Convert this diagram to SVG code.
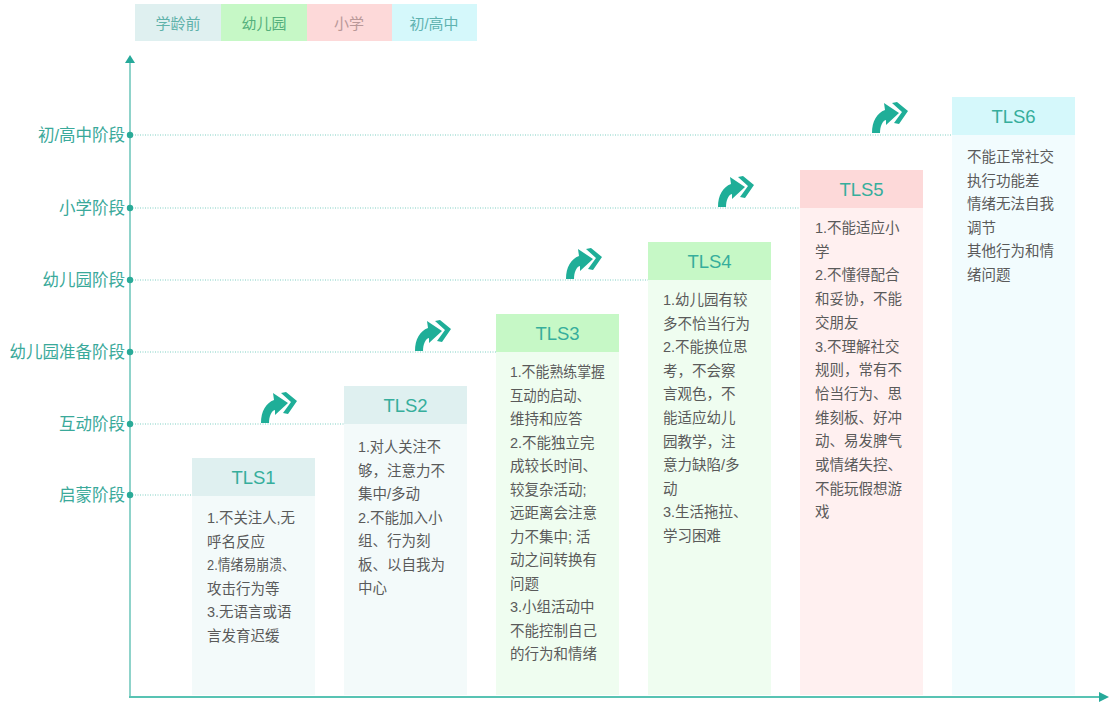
<svg xmlns="http://www.w3.org/2000/svg" width="1114" height="706" viewBox="0 0 1114 706">
<style>
.lg{font-family:"Liberation Sans","Noto Sans CJK SC",sans-serif;font-size:15px;text-anchor:middle}
.lv{font-family:"Liberation Sans","Noto Sans CJK SC",sans-serif;font-size:16.5px;fill:#3aa99a;text-anchor:end}
.hd{font-family:"Liberation Sans","Noto Sans CJK SC",sans-serif;font-size:18.5px;fill:#36ae9c;text-anchor:middle}
.bd{font-family:"Liberation Sans","Noto Sans CJK SC",sans-serif;font-size:14.5px;fill:#5a5a5a}
.dot{stroke:#7fcfc3;stroke-width:1;stroke-dasharray:1 1.5;fill:none}
.pt{fill:#2aaa98}
.ic{fill:#1fae98}
</style>
<defs>
<g id="ic">
<path class="ic" d="M0,31 C0,19 5,11 13,8 L12,1 L27,11 L14,23 L14,18 C10,19 8,25 8,31 Z"/>
<path class="ic" d="M20,1 L25,0 L36,9 L27,22 L22,21 L30,10 Z"/>
</g>
</defs>
<rect width="1114" height="706" fill="#ffffff"/>

<g id="legend">
<rect x="135" y="4" width="86" height="37" fill="#dff0f0"/>
<rect x="221" y="4" width="86" height="37" fill="#c6f8c6"/>
<rect x="307" y="4" width="85" height="37" fill="#fdd9d9"/>
<rect x="392" y="4" width="85" height="37" fill="#d5f8fb"/>
<text class="lg" x="178" y="29" fill="#5fb2aa">学龄前</text>
<text class="lg" x="264" y="29" fill="#55b07c">幼儿园</text>
<text class="lg" x="349" y="29" fill="#b99898">小学</text>
<text class="lg" x="434" y="29" fill="#5fb2b0">初/高中</text>
</g>

<g id="connectors">
<line x1="130" y1="697" x2="130" y2="62" stroke="#8fd3ca" stroke-width="2"/>
<polygon points="130,55 125,63 135,63" fill="#26a99a"/>
<line x1="129" y1="697" x2="1099" y2="697" stroke="#58c3b3" stroke-width="2"/>
<polygon points="1109,697 1099,692 1099,702" fill="#26a99a"/>
<line class="dot" x1="130" y1="495" x2="192" y2="495"/>
<line class="dot" x1="130" y1="424" x2="344" y2="424"/>
<line class="dot" x1="130" y1="352" x2="496" y2="352"/>
<line class="dot" x1="130" y1="280" x2="648" y2="280"/>
<line class="dot" x1="130" y1="208" x2="800" y2="208"/>
<line class="dot" x1="130" y1="135" x2="952" y2="135"/>
<circle class="pt" cx="130" cy="495" r="3.2"/>
<circle class="pt" cx="130" cy="424" r="3.2"/>
<circle class="pt" cx="130" cy="352" r="3.2"/>
<circle class="pt" cx="130" cy="280" r="3.2"/>
<circle class="pt" cx="130" cy="208" r="3.2"/>
<circle class="pt" cx="130" cy="135" r="3.2"/>
<use href="#ic" x="261" y="392"/>
<use href="#ic" x="415" y="320"/>
<use href="#ic" x="566" y="248"/>
<use href="#ic" x="718" y="176"/>
<use href="#ic" x="872" y="102"/>
</g>

<g id="levels">
<text class="lv" x="125" y="501">启蒙阶段</text>
<text class="lv" x="125" y="430">互动阶段</text>
<text class="lv" x="125" y="358">幼儿园准备阶段</text>
<text class="lv" x="125" y="286">幼儿园阶段</text>
<text class="lv" x="125" y="214">小学阶段</text>
<text class="lv" x="125" y="141">初/高中阶段</text>
</g>

<g id="tls1">
<rect x="192" y="496" width="123" height="199" fill="#f3fafa"/>
<rect x="192" y="458" width="123" height="38" fill="#dff0f0"/>
<text class="hd" x="253.5" y="484">TLS1</text>
<text class="bd" x="207" y="523"><tspan x="207" textLength="88" lengthAdjust="spacingAndGlyphs">1.不关注人,无</tspan><tspan x="207" dy="23.5">呼名反应</tspan><tspan x="207" dy="23.5" textLength="88" lengthAdjust="spacingAndGlyphs">2.情绪易崩溃、</tspan><tspan x="207" dy="23.5">攻击行为等</tspan><tspan x="207" dy="23.5">3.无语言或语</tspan><tspan x="207" dy="23.5">言发育迟缓</tspan></text>
</g>

<g id="tls2">
<rect x="344" y="424" width="123" height="271" fill="#f3fafa"/>
<rect x="344" y="386" width="123" height="38" fill="#dff0f0"/>
<text class="hd" x="405.5" y="412">TLS2</text>
<text class="bd" x="358" y="452"><tspan x="358" textLength="83" lengthAdjust="spacingAndGlyphs">1.对人关注不</tspan><tspan x="358" dy="23.5">够，注意力不</tspan><tspan x="358" dy="23.5">集中/多动</tspan><tspan x="358" dy="23.5">2.不能加入小</tspan><tspan x="358" dy="23.5">组、行为刻</tspan><tspan x="358" dy="23.5">板、以自我为</tspan><tspan x="358" dy="23.5">中心</tspan></text>
</g>

<g id="tls3">
<rect x="496" y="352" width="123" height="343" fill="#effdf0"/>
<rect x="496" y="314" width="123" height="38" fill="#c6f8c6"/>
<text class="hd" x="557.5" y="340">TLS3</text>
<text class="bd" x="510" y="377"><tspan x="510" textLength="95" lengthAdjust="spacingAndGlyphs">1.不能熟练掌握</tspan><tspan x="510" dy="23.5" textLength="80" lengthAdjust="spacingAndGlyphs">互动的启动、</tspan><tspan x="510" dy="23.5">维持和应答</tspan><tspan x="510" dy="23.5">2.不能独立完</tspan><tspan x="510" dy="23.5">成较长时间、</tspan><tspan x="510" dy="23.5">较复杂活动;</tspan><tspan x="510" dy="23.5">远距离会注意</tspan><tspan x="510" dy="23.5">力不集中; 活</tspan><tspan x="510" dy="23.5">动之间转换有</tspan><tspan x="510" dy="23.5">问题</tspan><tspan x="510" dy="23.5">3.小组活动中</tspan><tspan x="510" dy="23.5">不能控制自己</tspan><tspan x="510" dy="23.5">的行为和情绪</tspan></text>
</g>

<g id="tls4">
<rect x="648" y="280" width="123" height="415" fill="#effdf0"/>
<rect x="648" y="242" width="123" height="38" fill="#c6f8c6"/>
<text class="hd" x="709.5" y="268">TLS4</text>
<text class="bd" x="663" y="305"><tspan x="663">1.幼儿园有较</tspan><tspan x="663" dy="23.6">多不恰当行为</tspan><tspan x="663" dy="23.6">2.不能换位思</tspan><tspan x="663" dy="23.6">考，不会察</tspan><tspan x="663" dy="23.6">言观色，不</tspan><tspan x="663" dy="23.6">能适应幼儿</tspan><tspan x="663" dy="23.6">园教学，注</tspan><tspan x="663" dy="23.6">意力缺陷/多</tspan><tspan x="663" dy="23.6">动</tspan><tspan x="663" dy="23.6">3.生活拖拉、</tspan><tspan x="663" dy="23.6">学习困难</tspan></text>
</g>

<g id="tls5">
<rect x="800" y="208" width="123" height="487" fill="#fff0f0"/>
<rect x="800" y="170" width="123" height="38" fill="#fdd9d9"/>
<text class="hd" x="861.5" y="196">TLS5</text>
<text class="bd" x="815" y="233"><tspan x="815">1.不能适应小</tspan><tspan x="815" dy="23.7">学</tspan><tspan x="815" dy="23.7">2.不懂得配合</tspan><tspan x="815" dy="23.7">和妥协，不能</tspan><tspan x="815" dy="23.7">交朋友</tspan><tspan x="815" dy="23.7">3.不理解社交</tspan><tspan x="815" dy="23.7">规则，常有不</tspan><tspan x="815" dy="23.7">恰当行为、思</tspan><tspan x="815" dy="23.7">维刻板、好冲</tspan><tspan x="815" dy="23.7">动、易发脾气</tspan><tspan x="815" dy="23.7">或情绪失控、</tspan><tspan x="815" dy="23.7">不能玩假想游</tspan><tspan x="815" dy="23.7">戏</tspan></text>
</g>

<g id="tls6">
<rect x="952" y="135" width="123" height="560" fill="#f2fcfe"/>
<rect x="952" y="97" width="123" height="38" fill="#d5f8fb"/>
<text class="hd" x="1013.5" y="123">TLS6</text>
<text class="bd" x="967" y="162"><tspan x="967">不能正常社交</tspan><tspan x="967" dy="23.6">执行功能差</tspan><tspan x="967" dy="23.6">情绪无法自我</tspan><tspan x="967" dy="23.6">调节</tspan><tspan x="967" dy="23.6">其他行为和情</tspan><tspan x="967" dy="23.6">绪问题</tspan></text>
</g>
</svg>
